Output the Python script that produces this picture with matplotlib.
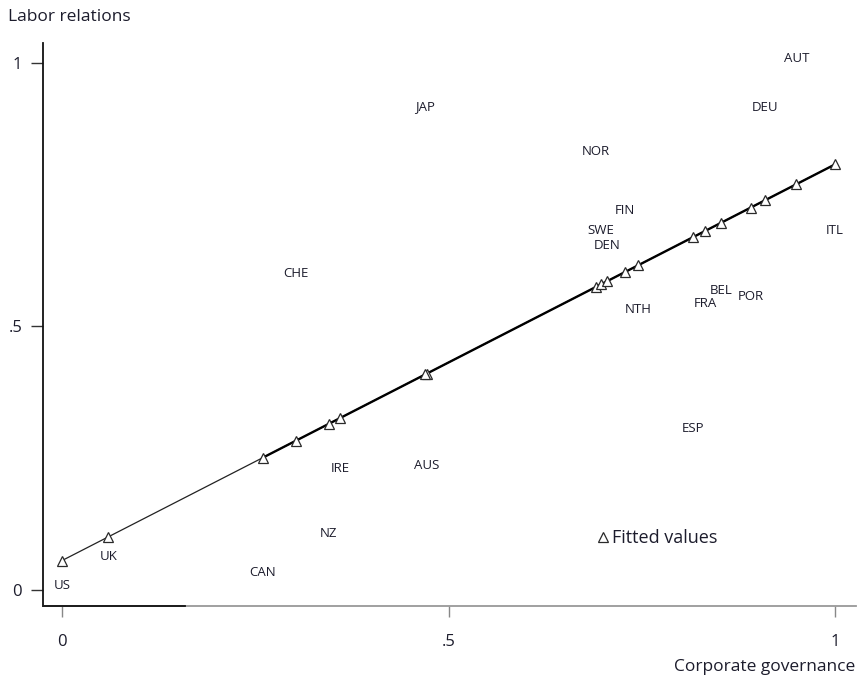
import numpy as np
import matplotlib
matplotlib.use("Agg")
import matplotlib.pyplot as plt
from matplotlib.lines import Line2D

countries = ["US", "UK", "CAN", "NZ", "IRE", "AUS", "CHE", "JAP", "NOR", "FIN",
             "SWE", "DEN", "NTH", "ESP", "FRA", "BEL", "POR", "ITL", "DEU", "AUT"]
corp_gov = [0.0, 0.06, 0.26, 0.345, 0.36, 0.472, 0.303, 0.47, 0.691, 0.728,
            0.697, 0.705, 0.745, 0.816, 0.832, 0.853, 0.891, 1.0, 0.909, 0.95]
labor_rel = [0.008, 0.063, 0.034, 0.108, 0.231, 0.237, 0.601, 0.917, 0.833, 0.721,
             0.683, 0.653, 0.533, 0.307, 0.543, 0.569, 0.556, 0.683, 0.915, 1.008]
tick_vals = [0, 0.5, 1]
tick_labels = ["0", ".5", "1"]

plt.rcParams['font.family'] = ['Open Sans', 'DejaVu Sans']
txt = '#1c1c2c'

fig = plt.figure(figsize=(8.58, 6.84), dpi=100)
ax = fig.add_axes([43/858, 1-606/684, (856-43)/858, (606-43)/684])

x = np.array(corp_gov)
y = np.array(labor_rel)
b, a = np.polyfit(x, y, 1)
fitted = a + b * x
order = np.argsort(x)
xs, fs = x[order], fitted[order]

ax.plot(xs, fs, color='#222222', lw=0.9, zorder=2)
thick = xs >= 0.25
ax.plot(xs[thick], fs[thick], color='black', lw=1.7, zorder=2)
ax.plot(x, fitted, linestyle='none', marker='^', ms=7.5, mfc='white', mec='#2a2a2a',
        mew=0.9, zorder=3)

for c, xi, yi in zip(countries, corp_gov, labor_rel):
    ax.text(xi, yi, c, ha='center', va='center', fontsize=9.5, color=txt, zorder=4)

ax.set_xlim(-19/773, 1 + 21/773)
ax.set_ylim(-16/527, 1 + 20/527)

ax.set_xticks(tick_vals)
ax.set_xticklabels(tick_labels)
ax.set_yticks(tick_vals)
ax.set_yticklabels(tick_labels)
ax.tick_params(axis='y', labelsize=12, colors='#333333', labelcolor=txt,
               length=9, width=1.0, pad=6)
ax.tick_params(axis='x', labelsize=12, length=8, width=1.0, colors='#888888',
               labelcolor=txt, pad=12)

ax.spines['top'].set_visible(False)
ax.spines['right'].set_visible(False)
ax.spines['left'].set_color('#111111')
ax.spines['left'].set_linewidth(1.3)
ax.spines['bottom'].set_color('#999999')
ax.spines['bottom'].set_linewidth(1.3)
ax.plot([0, (185-43)/(856-43)], [0, 0], transform=ax.transAxes, color='#111111',
        lw=1.3, clip_on=False, zorder=5)

fig.text(8/858, 1-17/684, "Labor relations", ha='left', va='center', fontsize=12.5, color=txt)
fig.text(855/858, 1-667/684, "Corporate governance", ha='right', va='center', fontsize=12.5, color=txt)

handle = Line2D([], [], linestyle='none', marker='^', ms=7.5, mfc='white', mec='#2a2a2a', mew=0.9)
ax.legend([handle], ["Fitted values"], loc='center left', bbox_to_anchor=(542/813, (606-538)/563),
          frameon=False, fontsize=13, handletextpad=-0.1, borderaxespad=0,
          labelcolor=txt, handlelength=1.2)

fig.savefig("out.png", dpi=100)
